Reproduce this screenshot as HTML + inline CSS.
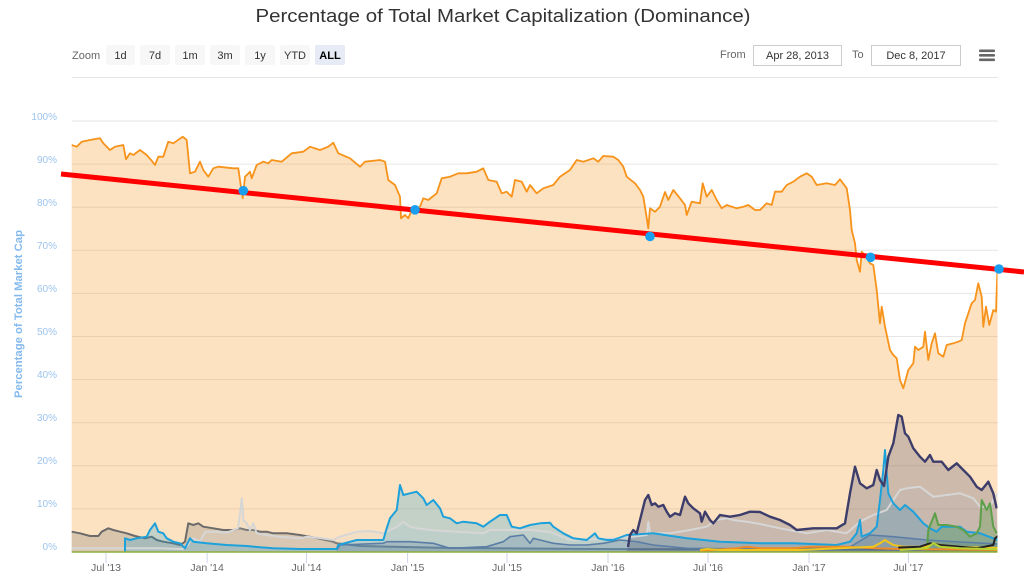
<!DOCTYPE html>
<html>
<head>
<meta charset="utf-8">
<style>
  html, body { margin:0; padding:0; background:#fff; }
  svg { display:block; }
  text { font-family: "Liberation Sans", Arial, sans-serif; }
</style>
</head>
<body>
<svg width="1024" height="579" viewBox="0 0 1024 579" xmlns="http://www.w3.org/2000/svg">
  <rect x="0" y="0" width="1024" height="579" fill="#ffffff"/>

  <!-- Title -->
  <text x="503" y="22" text-anchor="middle" font-size="18" fill="#333333" textLength="495" lengthAdjust="spacingAndGlyphs">Percentage of Total Market Capitalization (Dominance)</text>

  <!-- Range selector -->
  <text x="72" y="59" font-size="11" fill="#666666">Zoom</text>
  <g font-size="11" text-anchor="middle" fill="#333333">
    <rect x="106" y="45" width="29" height="20" rx="2" fill="#f7f7f7"/><text x="120.5" y="59">1d</text>
    <rect x="140" y="45" width="30" height="20" rx="2" fill="#f7f7f7"/><text x="155" y="59">7d</text>
    <rect x="175" y="45" width="30" height="20" rx="2" fill="#f7f7f7"/><text x="190" y="59">1m</text>
    <rect x="210" y="45" width="30" height="20" rx="2" fill="#f7f7f7"/><text x="225" y="59">3m</text>
    <rect x="245" y="45" width="30" height="20" rx="2" fill="#f7f7f7"/><text x="260" y="59">1y</text>
    <rect x="280" y="45" width="30" height="20" rx="2" fill="#f7f7f7"/><text x="295" y="59">YTD</text>
    <rect x="315" y="45" width="30" height="20" rx="2" fill="#e6ebf5"/><text x="330" y="59" font-weight="bold" fill="#000000">ALL</text>
  </g>

  <text x="720" y="58" font-size="11" fill="#666666">From</text>
  <rect x="753.5" y="45.5" width="88" height="20" fill="#ffffff" stroke="#cccccc" stroke-width="1"/>
  <text x="797.5" y="59" font-size="11" fill="#333333" text-anchor="middle">Apr 28, 2013</text>
  <text x="852" y="58" font-size="11" fill="#666666">To</text>
  <rect x="871.5" y="45.5" width="89" height="20" fill="#ffffff" stroke="#cccccc" stroke-width="1"/>
  <text x="916" y="59" font-size="11" fill="#333333" text-anchor="middle">Dec 8, 2017</text>

  <!-- hamburger -->
  <g fill="#666666">
    <rect x="979" y="49.5" width="16" height="2.6" rx="1"/>
    <rect x="979" y="54" width="16" height="2.6" rx="1"/>
    <rect x="979" y="58.5" width="16" height="2.6" rx="1"/>
  </g>

  <!-- Gridlines -->
  <g stroke="#e6e6e6" stroke-width="1">
    <line x1="72" y1="77.5" x2="998" y2="77.5"/>
    <line x1="72" y1="121" x2="998" y2="121"/>
    <line x1="72" y1="164.1" x2="998" y2="164.1"/>
    <line x1="72" y1="207.2" x2="998" y2="207.2"/>
    <line x1="72" y1="250.3" x2="998" y2="250.3"/>
    <line x1="72" y1="293.4" x2="998" y2="293.4"/>
    <line x1="72" y1="336.5" x2="998" y2="336.5"/>
    <line x1="72" y1="379.6" x2="998" y2="379.6"/>
    <line x1="72" y1="422.7" x2="998" y2="422.7"/>
    <line x1="72" y1="465.8" x2="998" y2="465.8"/>
    <line x1="72" y1="508.9" x2="998" y2="508.9"/>
  </g>

  <!-- Y labels -->
  <g font-size="10" fill="#9cc3ee" text-anchor="end">
    <text x="57" y="120">100%</text>
    <text x="57" y="163">90%</text>
    <text x="57" y="206">80%</text>
    <text x="57" y="249">70%</text>
    <text x="57" y="292">60%</text>
    <text x="57" y="335">50%</text>
    <text x="57" y="378">40%</text>
    <text x="57" y="421">30%</text>
    <text x="57" y="464">20%</text>
    <text x="57" y="507">10%</text>
    <text x="57" y="550">0%</text>
  </g>
  <text transform="translate(22,314) rotate(-90)" text-anchor="middle" font-size="11" font-weight="bold" fill="#84b9ee" textLength="168" lengthAdjust="spacingAndGlyphs">Percentage of Total Market Cap</text>

  <defs>
    <clipPath id="plot"><rect x="71.5" y="70" width="926" height="483"/></clipPath>
  </defs>

  <g clip-path="url(#plot)">
    <!-- BTC -->
    <path fill="#f7931a" fill-opacity="0.27" stroke="none" d="M71.7,552 L71.7,145 76.7,146.7 81.7,141.7 90,140 100,138.3 103.3,143.3 110,150 115,146.7 123.3,145 126,159.3 130,153.3 133.3,155 140,150 146.7,155 151.7,160.7 155,165 158.3,156.7 163.3,156.7 168.3,141.7 173.3,143.3 182.7,136.7 186.7,140 190,173.3 195,171.7 200,161.7 203.3,170 208.3,176.7 213.3,168.3 218.3,166.7 233.3,168.3 238.3,168.3 240.7,185 242.7,198.3 245,176.7 250,171.7 251.7,178.3 256.7,165 263.3,161.7 268.3,163.3 271.7,160 281.7,161.7 291.7,153.3 303.3,151.7 310,146.7 320,150 328.3,146.7 333.3,142.7 338.3,153.3 350,158.3 360,166.7 365,161.7 380,160 385,161.7 388.3,180 395,185 400,196.7 401,218.3 405,215 408.3,218.3 411.7,210 420,206.7 423.3,198.3 428.3,200 436.7,193.3 441.7,178.3 450,176.7 458.3,173.3 466.7,173.3 476.7,171.7 483.3,168.3 488.3,180 496.7,181.7 501.7,193.3 506.7,191.7 511.7,196.7 515,180 521.7,181.7 526.7,191.7 530,185 536.7,193.3 543.3,188.3 553.3,185 560,176.7 570,170 576.7,160 583.3,161.7 593.3,158.3 598.3,161.7 603.3,156 613.3,156.7 618.3,160 623.3,166.7 626.7,176.7 635,183.3 640,190 643.3,196.7 646,213.3 648.3,228.3 650,208.3 655,211.7 660,206.7 665,192 668.3,200 673.3,190 680,198.3 685,205 686.7,215 691.7,201.7 700,203.3 702.7,183.3 706.7,196.7 711.7,190 716.7,200 721.7,208.3 726.7,205 736.7,208.3 743.3,206.7 748.3,205 755,210 760,210 766.7,203.3 771.7,205 775,191.7 781.7,191.7 786.7,185 793.3,181.7 800,176.7 806.7,173.3 811.7,176.7 816.7,185 826.7,183.3 835,185 840,179.3 846.7,188.3 850,210 851.7,230 855,243.3 856.7,260 860,271.7 861.7,251.7 865,255 870,263.3 873.3,265 876.7,290 880,323.3 881.7,306.7 885,326.7 890,350 893.3,355 896.7,358.3 900,380 903.3,388.3 908.3,370 913.3,363.3 915,346.7 918.3,350 923.3,346.7 925,331.7 928.3,360 931.7,343.3 935,333.3 938.3,353.3 943.3,356.7 946.7,345 953.3,343.3 958.3,341.7 961.7,340 965,323.3 968.3,313.3 971.7,303.3 975,300 978.3,283.3 981.7,296.7 983.3,326.7 986,306.7 989.3,325 993.3,310 996,311.7 997.3,273.3 998.3,268.3 L998.3,552 Z"/>
    <polyline fill="none" stroke="#f7931a" stroke-width="1.8" stroke-linejoin="round" points="71.7,145 76.7,146.7 81.7,141.7 90,140 100,138.3 103.3,143.3 110,150 115,146.7 123.3,145 126,159.3 130,153.3 133.3,155 140,150 146.7,155 151.7,160.7 155,165 158.3,156.7 163.3,156.7 168.3,141.7 173.3,143.3 182.7,136.7 186.7,140 190,173.3 195,171.7 200,161.7 203.3,170 208.3,176.7 213.3,168.3 218.3,166.7 233.3,168.3 238.3,168.3 240.7,185 242.7,198.3 245,176.7 250,171.7 251.7,178.3 256.7,165 263.3,161.7 268.3,163.3 271.7,160 281.7,161.7 291.7,153.3 303.3,151.7 310,146.7 320,150 328.3,146.7 333.3,142.7 338.3,153.3 350,158.3 360,166.7 365,161.7 380,160 385,161.7 388.3,180 395,185 400,196.7 401,218.3 405,215 408.3,218.3 411.7,210 420,206.7 423.3,198.3 428.3,200 436.7,193.3 441.7,178.3 450,176.7 458.3,173.3 466.7,173.3 476.7,171.7 483.3,168.3 488.3,180 496.7,181.7 501.7,193.3 506.7,191.7 511.7,196.7 515,180 521.7,181.7 526.7,191.7 530,185 536.7,193.3 543.3,188.3 553.3,185 560,176.7 570,170 576.7,160 583.3,161.7 593.3,158.3 598.3,161.7 603.3,156 613.3,156.7 618.3,160 623.3,166.7 626.7,176.7 635,183.3 640,190 643.3,196.7 646,213.3 648.3,228.3 650,208.3 655,211.7 660,206.7 665,192 668.3,200 673.3,190 680,198.3 685,205 686.7,215 691.7,201.7 700,203.3 702.7,183.3 706.7,196.7 711.7,190 716.7,200 721.7,208.3 726.7,205 736.7,208.3 743.3,206.7 748.3,205 755,210 760,210 766.7,203.3 771.7,205 775,191.7 781.7,191.7 786.7,185 793.3,181.7 800,176.7 806.7,173.3 811.7,176.7 816.7,185 826.7,183.3 835,185 840,179.3 846.7,188.3 850,210 851.7,230 855,243.3 856.7,260 860,271.7 861.7,251.7 865,255 870,263.3 873.3,265 876.7,290 880,323.3 881.7,306.7 885,326.7 890,350 893.3,355 896.7,358.3 900,380 903.3,388.3 908.3,370 913.3,363.3 915,346.7 918.3,350 923.3,346.7 925,331.7 928.3,360 931.7,343.3 935,333.3 938.3,353.3 943.3,356.7 946.7,345 953.3,343.3 958.3,341.7 961.7,340 965,323.3 968.3,313.3 971.7,303.3 975,300 978.3,283.3 981.7,296.7 983.3,326.7 986,306.7 989.3,325 993.3,310 996,311.7 997.3,273.3 998.3,268.3"/>

    <!-- Dark grey (early alt) -->
    <path fill="#6e6e6e" fill-opacity="0.25" d="M71.7,552 L71.7,531.7 80,533.3 90,536 98.3,536 101.7,531.7 108.3,528.3 113.3,530 120,531.7 126.7,533.3 135,536 145,538.3 151.7,536.7 156.7,540 163.3,541.7 173.3,543.3 180,545 185,541.7 188.3,523.3 193.3,525 198.3,523.3 203.3,526.7 213.3,528.3 223.3,530 233.3,530 240,528.3 246.7,530 253.3,530 260,531.7 266.7,531.7 273.3,533.3 286.7,533.3 300,535 313,537.3 333,541.7 336.7,543.3 360,546 450,548 600,549 998,550 L998,552 Z"/>
    <polyline fill="none" stroke="#6b6b6b" stroke-width="2" stroke-linejoin="round" points="71.7,531.7 80,533.3 90,536 98.3,536 101.7,531.7 108.3,528.3 113.3,530 120,531.7 126.7,533.3 135,536 145,538.3 151.7,536.7 156.7,540 163.3,541.7 173.3,543.3 180,545 185,541.7 188.3,523.3 193.3,525 198.3,523.3 203.3,526.7 213.3,528.3 223.3,530 233.3,530 240,528.3 246.7,530 253.3,530 260,531.7 266.7,531.7 273.3,533.3 286.7,533.3 300,535 313,537.3 333,541.7 336.7,543.3 360,546 450,548 600,549 998,550"/>

    <!-- Light grey -->
    <path fill="#d0d0d0" fill-opacity="0.18" d="M71.7,552 L71.7,548.3 100,548.3 160,548.3 183,549 188,545 190,540 193.3,538.3 200,541.7 205,531.7 216.7,531.7 226.7,532.7 233.3,530 238,528.3 240.5,510 241.7,498.3 243,512 243.3,520 246.7,523.3 250,530 253.3,523.3 256.7,533.3 266.7,535 280,536.7 300,538.3 306.7,536.7 320,538 333.3,540 340,536.7 356.7,531.7 370,531 383.3,533.3 390,530 396.7,527 403.3,521.7 406,524 410,526.7 416.7,528.3 430,530 456.7,531.7 483.3,533.3 490,530 510,530 530,530 550,532 570,540 600,539 620,538.3 646.7,535 648.3,521.7 650,533.3 670,533.3 690,530 706.7,526.7 716.7,520 726.7,518.3 733.3,520 746.7,521.7 760,524 780,528.3 806.7,533.3 826.7,530 846.7,533.3 860,521.7 873.3,515 886.7,510 893.3,500 900,490 906.7,488.3 920,486.7 933.3,496.7 946.7,495 960,493.3 973.3,498.3 980,506.7 990,506.7 995,496.7 998,494 L998,552 Z"/>

    <!-- Cyan -->
    <path fill="#1ca1db" fill-opacity="0.25" d="M125,552 L125,538.3 130,540 136.7,538.3 146.7,536.7 150,530 155,523.3 158.3,531.7 163.3,533.3 166.7,538.3 173.3,541.7 180,543.3 185,548.3 190,538.3 193.3,541.7 206.7,543.3 226.7,545 246.7,546 260,547.3 273.3,548.3 300,549 336.7,549 338.3,545 356.7,540 383.3,540 386.7,528.3 390,518.3 396.7,510 400,485 403.3,495 410,493.3 416.7,491.7 423.3,498.3 426.7,505 433.3,500 440,508.3 443.3,516.7 450,518.3 456.7,523.3 463.3,521.7 476.7,523.3 483.3,526.7 490,521.7 500,515 506.7,515 511.7,526.7 520,528.3 530,525 540,523.3 550,522.7 553.3,526.7 563.3,533.3 573.3,538.3 586.7,540 595,533.3 598.3,538.3 606.7,540 613.3,540 626.7,535 653.3,533.3 686.7,538.3 720,541.7 760,543.3 793.3,543.3 836.7,545 850,541.7 856.7,533.3 860,520 861.7,536.7 870,533.3 876.7,526.7 880,500 883.3,470 885,450 886.7,473.3 888.3,493.3 893.3,503.3 900,510 905,505 913.3,511.7 923.3,523.3 930,528.3 936.7,531.7 941.7,526.7 960,526.7 966.7,531.7 980,533.3 993.3,538.3 998,540 L998,552 Z"/>

    <!-- Slate -->
    <path fill="#5b7ea6" fill-opacity="0.25" d="M336.7,552 L336.7,550 340,545 383.3,543.3 386.7,541.7 410,541.7 433.3,543.3 450,548.3 486.7,546.7 503.3,541.7 510,536.7 523.3,535 530,543.3 533.3,538.3 540,540 553.3,543.3 570,545 586.7,545 603.3,543.3 620,540 636.7,541.7 653.3,545 686.7,548.3 760,549 850,547 870,535 893.3,536.7 926.7,540 960,542 998,544 L998,552 Z"/>

    <!-- Navy (ETH) -->
    <path fill="#434368" fill-opacity="0.25" d="M626,552 L628,547 630,535 633.3,530 636.7,533.3 640,520 645,500 648.3,495 651.7,505 655,503.3 658.3,506.7 663.3,505 666.7,511.7 670,516.7 675,513.3 680,515 685,496.7 688.3,503.3 693.3,508.3 700,513.3 701.7,521.7 705,511.7 710,520 713.3,523.3 720,515 730,516.7 740,515 750,511.7 760,512 770,516.7 780,520 790,525 796.7,530 813.3,528.3 826.7,528.3 836.7,528.3 845,523.3 850,493.3 855,466.7 860,483.3 866.7,488.3 873.3,485 876.7,470 880,480 884,486 888.3,456.7 893.3,443.3 898.3,415 901.7,416.7 905,433.3 908.3,436.7 913.3,448.3 920,456.7 925,461.7 930,455 933.3,461.7 941.7,461.7 948.3,470 956.7,463.3 963.3,470 970,476.7 976.7,486.7 981.7,490 988.3,481.7 993.3,493.3 996.7,508.3 L998,552 Z"/>

    <!-- Green (BCH) -->
    <path fill="#5ea04a" fill-opacity="0.3" d="M926.7,552 L928.3,530 935,513.3 938.3,525 946.7,525 956.7,526.7 963.3,530 970,536.7 976.7,533.3 980,526.7 981.7,500 986.7,510 990,503.3 993.3,526.7 996.7,533.3 L998,552 Z"/>

    <!-- Lines on top -->
    <polyline fill="none" stroke="#d6d6d6" stroke-width="2" stroke-linejoin="round" points="71.7,548.3 100,548.3 160,548.3 183,549 188,545 190,540 193.3,538.3 200,541.7 205,531.7 216.7,531.7 226.7,532.7 233.3,530 238,528.3 240.5,510 241.7,498.3 243,512 243.3,520 246.7,523.3 250,530 253.3,523.3 256.7,533.3 266.7,535 280,536.7 300,538.3 306.7,536.7 320,538 333.3,540 340,536.7 356.7,531.7 370,531 383.3,533.3 390,530 396.7,527 403.3,521.7 406,524 410,526.7 416.7,528.3 430,530 456.7,531.7 483.3,533.3 490,530 510,530 530,530 550,532 570,540 600,539 620,538.3 646.7,535 648.3,521.7 650,533.3 670,533.3 690,530 706.7,526.7 716.7,520 726.7,518.3 733.3,520 746.7,521.7 760,524 780,528.3 806.7,533.3 826.7,530 846.7,533.3 860,521.7 873.3,515 886.7,510 893.3,500 900,490 906.7,488.3 920,486.7 933.3,496.7 946.7,495 960,493.3 973.3,498.3 980,506.7 990,506.7 995,496.7 998,494"/>
    <polyline fill="none" stroke="#5b7ea6" stroke-width="1.6" stroke-linejoin="round" points="336.7,550 340,545 383.3,543.3 386.7,541.7 410,541.7 433.3,543.3 450,548.3 486.7,546.7 503.3,541.7 510,536.7 523.3,535 530,543.3 533.3,538.3 540,540 553.3,543.3 570,545 586.7,545 603.3,543.3 620,540 636.7,541.7 653.3,545 686.7,548.3 760,549 850,547 870,535 893.3,536.7 926.7,540 960,542 998,544"/>
    <polyline fill="none" stroke="#1ca1db" stroke-width="2" stroke-linejoin="round" points="125,552 125,538.3 130,540 136.7,538.3 146.7,536.7 150,530 155,523.3 158.3,531.7 163.3,533.3 166.7,538.3 173.3,541.7 180,543.3 185,548.3 190,538.3 193.3,541.7 206.7,543.3 226.7,545 246.7,546 260,547.3 273.3,548.3 300,549 336.7,549 338.3,545 356.7,540 383.3,540 386.7,528.3 390,518.3 396.7,510 400,485 403.3,495 410,493.3 416.7,491.7 423.3,498.3 426.7,505 433.3,500 440,508.3 443.3,516.7 450,518.3 456.7,523.3 463.3,521.7 476.7,523.3 483.3,526.7 490,521.7 500,515 506.7,515 511.7,526.7 520,528.3 530,525 540,523.3 550,522.7 553.3,526.7 563.3,533.3 573.3,538.3 586.7,540 595,533.3 598.3,538.3 606.7,540 613.3,540 626.7,535 653.3,533.3 686.7,538.3 720,541.7 760,543.3 793.3,543.3 836.7,545 850,541.7 856.7,533.3 860,520 861.7,536.7 870,533.3 876.7,526.7 880,500 883.3,470 885,450 886.7,473.3 888.3,493.3 893.3,503.3 900,510 905,505 913.3,511.7 923.3,523.3 930,528.3 936.7,531.7 941.7,526.7 960,526.7 966.7,531.7 980,533.3 993.3,538.3 998,540"/>
    <polyline fill="none" stroke="#3d3d6b" stroke-width="2.4" stroke-linejoin="round" points="628,547 630,535 633.3,530 636.7,533.3 640,520 645,500 648.3,495 651.7,505 655,503.3 658.3,506.7 663.3,505 666.7,511.7 670,516.7 675,513.3 680,515 685,496.7 688.3,503.3 693.3,508.3 700,513.3 701.7,521.7 705,511.7 710,520 713.3,523.3 720,515 730,516.7 740,515 750,511.7 760,512 770,516.7 780,520 790,525 796.7,530 813.3,528.3 826.7,528.3 836.7,528.3 845,523.3 850,493.3 855,466.7 860,483.3 866.7,488.3 873.3,485 876.7,470 880,480 884,486 888.3,456.7 893.3,443.3 898.3,415 901.7,416.7 905,433.3 908.3,436.7 913.3,448.3 920,456.7 925,461.7 930,455 933.3,461.7 941.7,461.7 948.3,470 956.7,463.3 963.3,470 970,476.7 976.7,486.7 981.7,490 988.3,481.7 993.3,493.3 996.7,508.3"/>
    <polyline fill="none" stroke="#5ea04a" stroke-width="2" stroke-linejoin="round" points="926.7,552 928.3,530 935,513.3 938.3,525 946.7,525 956.7,526.7 963.3,530 970,536.7 976.7,533.3 980,526.7 981.7,500 986.7,510 990,503.3 993.3,526.7 996.7,533.3"/>
    <polyline fill="none" stroke="#f08a24" stroke-width="2" stroke-linejoin="round" points="700,551 736.7,548.3 746.7,546.7 760,548.3 793.3,548.3 810,546.7 843.3,546.7 876.7,548.3 900,549 998,550"/>
    <polyline fill="none" stroke="#f0c419" stroke-width="2" stroke-linejoin="round" points="700,550 706.7,549 720,550 800,550 873.3,546.7 880,543.3 885,540 888,542 893.3,545 903.3,546.7 926.7,546.7 933.3,543.3 940,545 960,547 998,548"/>
    <polyline fill="none" stroke="#222222" stroke-width="2" stroke-linejoin="round" points="898.3,547.5 920,546.7 930,543.3 940,545 960,546.7 976.7,548.3 993.3,545 995,538.3 998,536"/>
    <polyline fill="none" stroke="#b5d334" stroke-width="2" stroke-linejoin="round" points="900,550 926.7,548.3 933.3,543.3 940,546.7 960,548.3 998,549.3"/>
    <line x1="71.7" y1="552" x2="998" y2="552" stroke="#8fae3c" stroke-width="1.5"/>
  </g>

  <!-- X axis ticks & labels -->
  <g stroke="#ccd6eb" stroke-width="1">
    <line x1="106" y1="553" x2="106" y2="563"/>
    <line x1="207.1" y1="553" x2="207.1" y2="563"/>
    <line x1="306.5" y1="553" x2="306.5" y2="563"/>
    <line x1="407.6" y1="553" x2="407.6" y2="563"/>
    <line x1="507" y1="553" x2="507" y2="563"/>
    <line x1="608" y1="553" x2="608" y2="563"/>
    <line x1="708" y1="553" x2="708" y2="563"/>
    <line x1="809" y1="553" x2="809" y2="563"/>
    <line x1="908.4" y1="553" x2="908.4" y2="563"/>
  </g>
  <g font-size="10.5" fill="#666666" text-anchor="middle">
    <text x="106" y="571">Jul '13</text>
    <text x="207.1" y="571">Jan '14</text>
    <text x="306.5" y="571">Jul '14</text>
    <text x="407.6" y="571">Jan '15</text>
    <text x="507" y="571">Jul '15</text>
    <text x="608" y="571">Jan '16</text>
    <text x="708" y="571">Jul '16</text>
    <text x="809" y="571">Jan '17</text>
    <text x="908.4" y="571">Jul '17</text>
  </g>

  <!-- Trend line -->
  <line x1="61" y1="174" x2="1024" y2="272" stroke="#ff0000" stroke-width="5"/>
  <g fill="#1a9ff0">
    <circle cx="243.3" cy="190.7" r="4.8"/>
    <circle cx="415" cy="209.8" r="4.8"/>
    <circle cx="650" cy="236.5" r="4.8"/>
    <circle cx="870.5" cy="257.3" r="4.8"/>
    <circle cx="999" cy="269" r="4.8"/>
  </g>
</svg>
</body>
</html>
